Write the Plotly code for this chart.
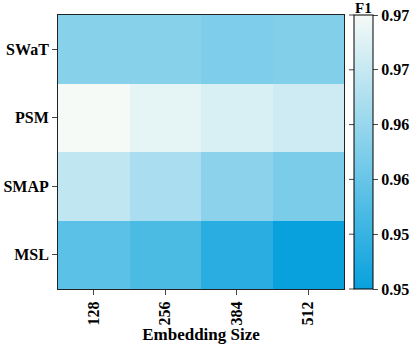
import plotly.graph_objects as go

# F1 score by dataset and embedding size
embedding_sizes = ["128", "256", "384", "512"]
datasets = ["SWaT", "PSM", "SMAP", "MSL"]
f1_swat = [0.9606, 0.9606, 0.9598, 0.9602]
f1_psm = [0.9700, 0.9686, 0.9675, 0.9667]
f1_smap = [0.9655, 0.9635, 0.9610, 0.9596]
f1_msl = [0.9570, 0.9557, 0.9528, 0.9500]

cbar_ticks = [0.950, 0.954, 0.958, 0.962, 0.966, 0.970]

z = [f1_swat, f1_psm, f1_smap, f1_msl]
zmin, zmax = 0.95, 0.97

font_family = "Liberation Serif"
bold = dict(family=font_family, size=16, color="black", weight="bold")

plot_w = 412 - 58 - 68
cbar_x = 1.035

fig = go.Figure(
    go.Heatmap(
        z=z,
        x=embedding_sizes,
        y=datasets,
        zmin=zmin,
        zmax=zmax,
        colorscale=[[0.0, "rgb(8,161,221)"], [0.5, "rgb(128,206,234)"], [1.0, "rgb(245,250,247)"]],
        colorbar=dict(
            x=cbar_x,
            xanchor="left",
            y=0.5,
            yanchor="middle",
            len=1.0,
            lenmode="fraction",
            thickness=19,
            thicknessmode="pixels",
            outlinewidth=1,
            outlinecolor="black",
            tickvals=cbar_ticks,
            ticktext=[f"{v:.2f}" for v in cbar_ticks],
            ticks="outside",
            ticklen=5,
            tickwidth=1,
            tickcolor="#444",
            tickfont=bold,
            xpad=0,
            ypad=0,
        ),
    )
)

# tick marks on the left edge of the colour bar as well
for v in cbar_ticks:
    frac = (v - zmin) / (zmax - zmin)
    fig.add_shape(
        type="line",
        xref="paper",
        yref="paper",
        x0=cbar_x - 5 / plot_w,
        x1=cbar_x,
        y0=frac,
        y1=frac,
        line=dict(color="#444", width=1),
    )

# colour bar heading
fig.add_annotation(
    text="<b>F1</b>",
    xref="paper",
    yref="paper",
    x=1.068,
    y=1.0,
    xanchor="center",
    yanchor="bottom",
    showarrow=False,
    yshift=-3,
    font=dict(family=font_family, size=15, color="black"),
)

fig.update_layout(
    width=412,
    height=345,
    margin=dict(l=58, r=68, t=15, b=56, autoexpand=False),
    paper_bgcolor="white",
    plot_bgcolor="white",
    xaxis=dict(
        title=dict(text="<b>Embedding Size</b>", font=dict(family=font_family, size=17, color="black"), standoff=2),
        tickangle=-90,
        ticks="outside",
        ticklen=5,
        tickcolor="#444",
        tickfont=bold,
        showline=True,
        linecolor="#222",
        linewidth=1,
        mirror=True,
    ),
    yaxis=dict(
        autorange="reversed",
        ticks="outside",
        ticklen=5,
        tickcolor="#444",
        tickfont=bold,
        showline=True,
        linecolor="#222",
        linewidth=1,
        mirror=True,
    ),
)

fig.write_html("out.html")
